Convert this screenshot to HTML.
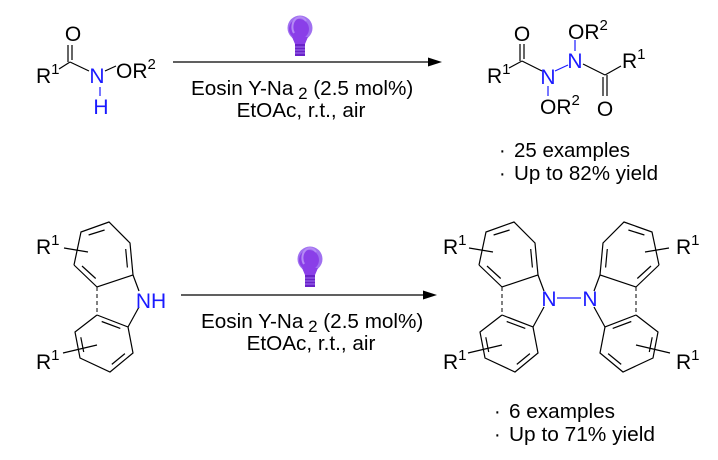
<!DOCTYPE html>
<html><head><style>
html,body{margin:0;padding:0;background:#fff;}
svg{display:block;}
text{font-family:"Liberation Sans",Arial,sans-serif;fill:#000;}
.b{fill:#1a1aff;}
</style></head><body>
<svg width="718" height="460" viewBox="0 0 718 460" xmlns="http://www.w3.org/2000/svg">
<defs>
<g id="carb" stroke="#000" stroke-width="1.2" fill="none">
  <polyline points="74,265 81,232 109,222 130,243 133,275 97,287 74,265"/>
  <line x1="88.6" y1="235" x2="104.6" y2="230"/>
  <line x1="125.7" y1="249" x2="127.4" y2="267.5"/>
  <line x1="82" y1="266" x2="95.7" y2="278.5"/>
  <line x1="133" y1="275" x2="139" y2="291"/>
  <line x1="128" y1="327" x2="139" y2="307"/>
  <line x1="97" y1="287" x2="97" y2="315" stroke-dasharray="4,3" stroke-width="1"/>
  <polyline points="97,315 128,327 133,353 110,372 80,358 75,332 97,315"/>
  <line x1="101.7" y1="321.5" x2="120.3" y2="328.4"/>
  <line x1="124.9" y1="353.6" x2="111.8" y2="364.4"/>
  <line x1="83.7" y1="352" x2="80.8" y2="337.3"/>
  <line x1="64" y1="248" x2="88" y2="252"/>
  <line x1="63" y1="353" x2="97" y2="345"/>
</g>
<g id="bulb">
  <circle cx="0" cy="0" r="12.5" fill="#a070f0"/>
  <circle cx="-1" cy="1" r="10" fill="#8a3fe8"/>
  <path d="M-6,5 A7,9 0 0 1 6,-7" stroke="#b58af5" stroke-width="2" fill="none"/>
  <path d="M-8,9 L-5,16 L5,16 L8,9 Z" fill="#8a3fe8"/>
  <rect x="-5" y="16" width="10" height="12" fill="#6a22c8"/>
  <line x1="-5" y1="19" x2="5" y2="19" stroke="#a070f0" stroke-width="1"/>
  <line x1="-5" y1="22" x2="5" y2="22" stroke="#a070f0" stroke-width="1"/>
  <line x1="-5" y1="25" x2="5" y2="25" stroke="#a070f0" stroke-width="1"/>
</g>
</defs>

<!-- Top reactant -->
<g stroke="#000" stroke-width="1.2">
  <line x1="59" y1="69" x2="70" y2="62"/>
  <line x1="68" y1="45" x2="68" y2="62"/>
  <line x1="72" y1="45" x2="72" y2="60"/>
  <line x1="70" y1="62" x2="89" y2="71"/>
  <line x1="105" y1="71" x2="116" y2="66"/>
</g>
<line x1="100" y1="87" x2="100" y2="96" stroke="#1a1aff" stroke-width="1.2"/>
<text x="73" y="41" font-size="21" text-anchor="middle">O</text>
<text x="36" y="83" font-size="21">R<tspan font-size="15" dy="-9">1</tspan></text>
<text class="b" x="97" y="83" font-size="21" text-anchor="middle">N</text>
<text class="b" x="101" y="114" font-size="21" text-anchor="middle">H</text>
<text x="116" y="78" font-size="21">OR<tspan font-size="15" dy="-9">2</tspan></text>

<!-- Top arrow -->
<line x1="173" y1="62" x2="432" y2="62" stroke="#000" stroke-width="1.3"/>
<polygon points="442,62 428,57.5 428,66.5" fill="#000"/>
<use href="#bulb" x="300" y="28"/>
<text x="191" y="95" font-size="20.7">Eosin Y-Na<tspan font-size="17" dy="4"> 2</tspan><tspan dy="-4"> (2.5 mol%)</tspan></text>
<text x="301" y="117" font-size="20.7" text-anchor="middle">EtOAc, r.t., air</text>

<!-- Top product -->
<g stroke="#000" stroke-width="1.2">
  <line x1="509" y1="68" x2="522" y2="61"/>
  <line x1="520" y1="44" x2="520" y2="61"/>
  <line x1="524" y1="44" x2="524" y2="59"/>
  <line x1="522" y1="61" x2="542" y2="71"/>
  <line x1="583" y1="64" x2="605" y2="75"/>
  <line x1="603" y1="77" x2="603" y2="96"/>
  <line x1="607" y1="75" x2="607" y2="96"/>
  <line x1="605" y1="75" x2="621" y2="66"/>
</g>
<g stroke="#1a1aff" stroke-width="1.2">
  <line x1="548" y1="86" x2="548" y2="96"/>
  <line x1="555" y1="71" x2="568" y2="65"/>
  <line x1="575" y1="40" x2="575" y2="51"/>
</g>
<text x="522" y="41" font-size="21" text-anchor="middle">O</text>
<text x="487" y="83" font-size="21">R<tspan font-size="15" dy="-9">1</tspan></text>
<text class="b" x="548" y="84" font-size="21" text-anchor="middle">N</text>
<text x="540" y="114" font-size="21">OR<tspan font-size="15" dy="-9">2</tspan></text>
<text class="b" x="575" y="68" font-size="21" text-anchor="middle">N</text>
<text x="568" y="39" font-size="21">OR<tspan font-size="15" dy="-9">2</tspan></text>
<text x="605" y="116" font-size="21" text-anchor="middle">O</text>
<text x="622" y="68" font-size="21">R<tspan font-size="15" dy="-9">1</tspan></text>
<text x="499" y="157" font-size="20">·</text>
<text x="514" y="157" font-size="20" textLength="116" lengthAdjust="spacingAndGlyphs">25 examples</text>
<text x="499" y="180" font-size="20">·</text>
<text x="514" y="180" font-size="20" textLength="144" lengthAdjust="spacingAndGlyphs">Up to 82% yield</text>

<!-- Bottom reactant -->
<use href="#carb"/>
<text x="36" y="254" font-size="21">R<tspan font-size="15" dy="-9">1</tspan></text>
<text x="36" y="369" font-size="21">R<tspan font-size="15" dy="-9">1</tspan></text>
<text class="b" x="151" y="308" font-size="21" text-anchor="middle">NH</text>

<!-- Bottom arrow -->
<line x1="181" y1="295" x2="428" y2="295" stroke="#000" stroke-width="1.3"/>
<polygon points="437,295 423,290.5 423,299.5" fill="#000"/>
<use href="#bulb" x="310" y="259"/>
<text x="201" y="328" font-size="20.7">Eosin Y-Na<tspan font-size="17" dy="4"> 2</tspan><tspan dy="-4"> (2.5 mol%)</tspan></text>
<text x="311" y="350" font-size="20.7" text-anchor="middle">EtOAc, r.t., air</text>

<!-- Bottom product -->
<g transform="translate(405,0)"><use href="#carb"/></g>
<g transform="translate(733,0) scale(-1,1)"><use href="#carb"/></g>
<line x1="557" y1="298" x2="581" y2="298" stroke="#1a1aff" stroke-width="1.2"/>
<text class="b" x="549" y="306" font-size="21" text-anchor="middle">N</text>
<text class="b" x="590" y="306" font-size="21" text-anchor="middle">N</text>
<text x="443" y="254" font-size="21">R<tspan font-size="15" dy="-9">1</tspan></text>
<text x="443" y="369" font-size="21">R<tspan font-size="15" dy="-9">1</tspan></text>
<text x="676" y="254" font-size="21">R<tspan font-size="15" dy="-9">1</tspan></text>
<text x="676" y="369" font-size="21">R<tspan font-size="15" dy="-9">1</tspan></text>
<text x="494" y="418" font-size="20">·</text>
<text x="509" y="418" font-size="20" textLength="106" lengthAdjust="spacingAndGlyphs">6 examples</text>
<text x="494" y="441" font-size="20">·</text>
<text x="509" y="441" font-size="20" textLength="146" lengthAdjust="spacingAndGlyphs">Up to 71% yield</text>
</svg>
</body></html>
